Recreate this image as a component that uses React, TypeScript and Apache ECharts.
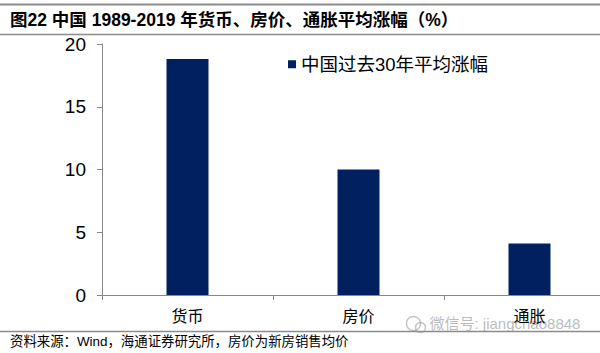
import React, { useEffect, useRef } from "react";
import * as echarts from "echarts";

const categories = ["货币", "房价", "通胀"];
const values = [18.8, 10.0, 4.1];
const seriesName = "中国过去30年平均涨幅";
const yTicks = { min: 0, max: 20, interval: 5 };
const titleText = "图22 中国 1989-2019 年货币、房价、通胀平均涨幅（%）";
const sourceText = "资料来源：Wind，海通证券研究所，房价为新房销售均价";
const watermarkText = "微信号: jiangchao8848";

const CJK = "'Liberation Sans', 'Noto Sans CJK SC', sans-serif";

export default function App() {
  const ref = useRef<HTMLDivElement>(null);
  useEffect(() => {
    if (!ref.current) return;
    const chart = echarts.init(ref.current, undefined, { renderer: "svg" });
    chart.setOption({
      animation: false,
      backgroundColor: "#ffffff",
      grid: { left: 102, top: 44, height: 251, width: 513, containLabel: false },
      legend: {
        left: 283,
        top: 50,
        icon: "rect",
        itemWidth: 8,
        itemHeight: 8,
        itemGap: 4,
        textStyle: { fontSize: 18.5, color: "#000", fontFamily: CJK },
        data: [seriesName],
      },
      xAxis: {
        type: "category",
        data: categories,
        boundaryGap: true,
        axisLine: { show: true, lineStyle: { color: "#888", width: 1 } },
        axisTick: { show: true, alignWithLabel: false, length: 5, lineStyle: { color: "#888" } },
        axisLabel: { fontSize: 16, color: "#000", margin: 13, fontFamily: CJK },
        splitLine: { show: false },
      },
      yAxis: {
        type: "value",
        min: yTicks.min,
        max: yTicks.max,
        interval: yTicks.interval,
        axisLine: { show: true, lineStyle: { color: "#888", width: 1 } },
        axisTick: { show: true, length: 5, lineStyle: { color: "#888" } },
        axisLabel: { fontSize: 19, color: "#000", margin: 16, fontFamily: "'Liberation Sans', sans-serif" },
        splitLine: { show: false },
      },
      series: [
        {
          name: seriesName,
          type: "bar",
          data: values,
          barWidth: 42,
          itemStyle: { color: "#002060" },
        },
      ],
      graphic: [
        { type: "line", shape: { x1: 0, y1: 4.5, x2: 600, y2: 4.5 }, style: { stroke: "#8c8c8c", lineWidth: 2 } },
        { type: "line", shape: { x1: 0, y1: 34.5, x2: 600, y2: 34.5 }, style: { stroke: "#8c8c8c", lineWidth: 1.5 } },
        { type: "line", shape: { x1: 0, y1: 331.5, x2: 600, y2: 331.5 }, style: { stroke: "#8c8c8c", lineWidth: 1.5 } },
        {
          type: "text",
          left: 10,
          top: 11,
          style: { text: titleText, fontSize: 17.5, fontWeight: "bold", fill: "#000", fontFamily: CJK },
        },
        {
          type: "text",
          left: 10,
          top: 335,
          style: { text: sourceText, fontSize: 13.4, fill: "#000", fontFamily: CJK },
        },
        {
          type: "group",
          left: 404,
          top: 314,
          children: [
            { type: "circle", shape: { cx: 10, cy: 8, r: 7 }, style: { fill: "none", stroke: "rgba(150,150,150,0.55)", lineWidth: 1.5 } },
            { type: "circle", shape: { cx: 17, cy: 12, r: 5 }, style: { fill: "none", stroke: "rgba(150,150,150,0.55)", lineWidth: 1.5 } },
            {
              type: "text",
              x: 26,
              y: 0,
              style: { text: watermarkText, fontSize: 15, fill: "rgba(140,140,140,0.6)", fontFamily: CJK },
            },
          ],
        },
      ],
    });
    return () => chart.dispose();
  }, []);
  return (
    <div
      ref={ref}
      style={{ position: "fixed", left: 0, top: 0, width: 620, height: 353 }}
    />
  );
}
